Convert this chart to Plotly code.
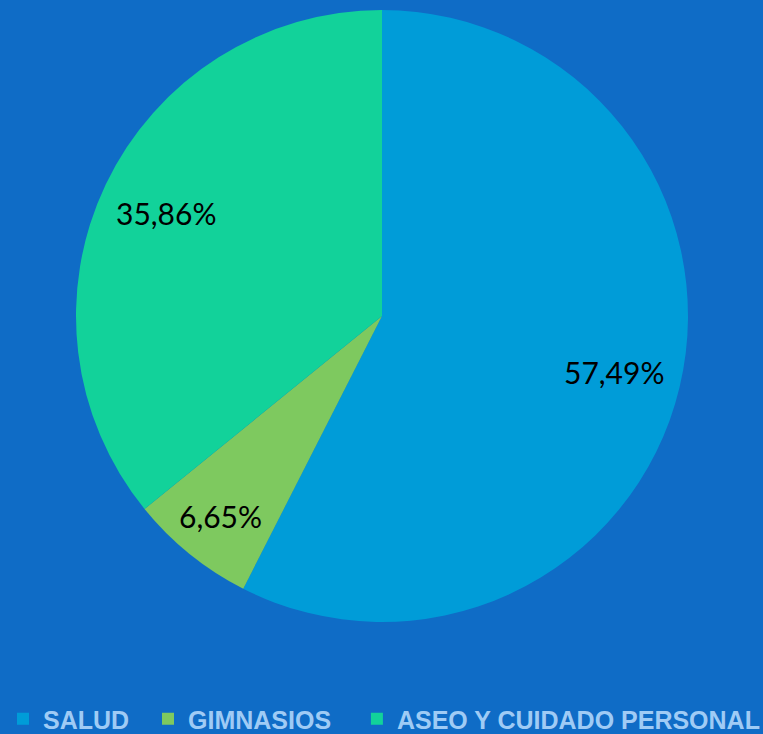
import math
import plotly.graph_objects as go

categories = ["SALUD", "GIMNASIOS", "ASEO Y CUIDADO PERSONAL"]
values = [57.49, 6.65, 35.86]
colors = ["#009cd8", "#7ec95f", "#12d29a"]
labels_text = [f"{v:.2f}%".replace(".", ",") for v in values]

W, H = 763, 734
CX, CY, R = 382, 316, 306  # pie centre and radius in px

# trailing no-break spaces only widen the legend gaps
legend_pad = ["\u00a0\u00a0", "\u00a0\u00a0\u00a0", ""]
legend_labels = [c + p for c, p in zip(categories, legend_pad)]

fig = go.Figure(go.Pie(
    labels=legend_labels,
    values=values,
    textinfo="none",
    hovertemplate=[f"{c}: {t}<extra></extra>" for c, t in zip(categories, labels_text)],
    marker=dict(colors=colors, line=dict(width=0)),
    sort=False,
    direction="clockwise",
    rotation=0,
    domain=dict(x=[(CX - R) / W, (CX + R) / W], y=[1 - (CY + R) / H, 1 - (CY - R) / H]),
))

# data labels placed along each slice's bisector (computed from values)
total = sum(values)
cum = 0.0
for v, t in zip(values, labels_text):
    mid = (cum + v / 2) / total * 2 * math.pi
    cum += v
    d = R * (0.84 if v / total < 0.1 else 0.78)
    px = CX + d * math.sin(mid)
    py = CY - d * math.cos(mid)
    fig.add_annotation(
        x=px / W, y=1 - py / H, xref="paper", yref="paper",
        xanchor="center", yanchor="middle",
        text=t, showarrow=False,
        font=dict(family="Lato", size=30, color="#000000"),
    )

fig.update_layout(
    width=W, height=H,
    paper_bgcolor="#0f6cc6",
    plot_bgcolor="#0f6cc6",
    margin=dict(l=0, r=0, t=0, b=0, autoexpand=False),
    showlegend=True,
    legend=dict(
        orientation="h", x=3 / W, xanchor="left", y=-8 / H, yanchor="bottom",
        font=dict(family="Liberation Sans", size=25, color="#9fcbf5", weight="bold"),
        itemwidth=30, traceorder="normal",
    ),
)
fig.write_html(
    "out.html",
    config={"displayModeBar": False},
    post_script="document.body.style.margin='0';document.body.style.background='#0f6cc6';",
)
